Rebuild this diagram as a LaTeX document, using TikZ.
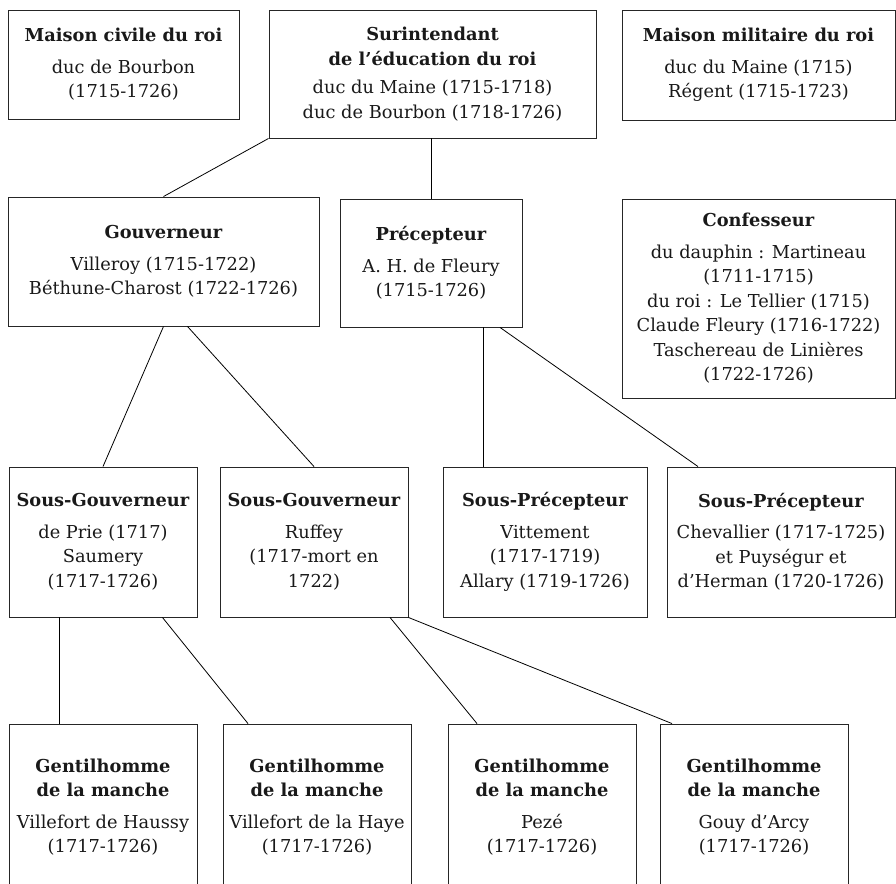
\documentclass[tikz,border=0pt]{standalone}
\usepackage{fontspec}
\setmainfont{DejaVu Serif}
\begin{document}
\begin{tikzpicture}[x=1pt,y=-1pt,
  box/.style={draw=black!85,line width=0.9pt,rectangle,align=center,inner sep=0pt,
    font=\fontsize{17.8}{24.5}\selectfont,text=black!90},
  link/.style={draw=black,line width=0.8pt}]
\useasboundingbox (0,0) rectangle (896,883);
\clip (0,0) rectangle (896,883);
\newcommand{\ttl}[1]{\textbf{#1}}
% top row
\node[box,minimum width=231,minimum height=109] (civ) at (123.5,64.5)
  {\ttl{Maison civile du roi}\\[7pt]duc de Bourbon\\(1715-1726)};
\node[box,minimum width=327,minimum height=128] (sur) at (432.5,74)
  {\ttl{Surintendant}\\\ttl{de l’éducation du roi}\\[4pt]duc du Maine (1715-1718)\\duc de Bourbon (1718-1726)};
\node[box,minimum width=273,minimum height=110] (mil) at (758.5,65)
  {\ttl{Maison militaire du roi}\\[7pt]duc du Maine (1715)\\Régent (1715-1723)};
% second row
\node[box,minimum width=311,minimum height=129] (gou) at (163.5,261.5)
  {\ttl{Gouverneur}\\[7pt]Villeroy (1715-1722)\\Béthune-Charost (1722-1726)};
\node[box,minimum width=182,minimum height=128] (pre) at (431,263)
  {\ttl{Précepteur}\\[7pt]A. H. de Fleury\\(1715-1726)};
\node[box,minimum width=273,minimum height=199] (con) at (758.5,298.5)
  {\ttl{Confesseur}\\[7pt]du dauphin : Martineau\\(1711-1715)\\du roi : Le Tellier (1715)\\Claude Fleury (1716-1722)\\Taschereau de Linières\\(1722-1726)};
% third row
\node[box,minimum width=188,minimum height=150] (sg1) at (103,542)
  {\ttl{Sous-Gouverneur}\\[7pt]de Prie (1717)\\Saumery\\(1717-1726)};
\node[box,minimum width=188,minimum height=150] (sg2) at (314,542)
  {\ttl{Sous-Gouverneur}\\[7pt]Ruffey\\(1717-mort en\\1722)};
\node[box,minimum width=204,minimum height=150] (sp1) at (545,542)
  {\ttl{Sous-Précepteur}\\[7pt]Vittement\\(1717-1719)\\Allary (1719-1726)};
\node[box,minimum width=228,minimum height=150] (sp2) at (781,542)
  {\ttl{Sous-Précepteur}\\[7pt]Chevallier (1717-1725)\\et Puységur et\\d’Herman (1720-1726)};
% fourth row
\node[box,minimum width=188,minimum height=166] (g1) at (103,807)
  {\ttl{Gentilhomme}\\\ttl{de la manche}\\[7pt]Villefort de Haussy\\(1717-1726)};
\node[box,minimum width=188,minimum height=166] (g2) at (317,807)
  {\ttl{Gentilhomme}\\\ttl{de la manche}\\[7pt]Villefort de la Haye\\(1717-1726)};
\node[box,minimum width=188,minimum height=166] (g3) at (542,807)
  {\ttl{Gentilhomme}\\\ttl{de la manche}\\[7pt]Pezé\\(1717-1726)};
\node[box,minimum width=188,minimum height=166] (g4) at (754,807)
  {\ttl{Gentilhomme}\\\ttl{de la manche}\\[7pt]Gouy d’Arcy\\(1717-1726)};
% connectors
\draw[link] (sur.south west) -- (gou.north);
\draw[link] (pre.north |- sur.south) -- (pre.north);
\draw[link] (gou.south) -- (sg1.north);
\draw[link] ([xshift=24]gou.south) -- (sg2.north);
\coordinate (pa) at ([xshift=52]pre.south);
\draw[link] (pa) -- (pa |- sp1.north);
\draw[link] ([xshift=69]pre.south) -- ([xshift=-83]sp2.north);
\coordinate (sa) at ([xshift=-44]sg1.south);
\draw[link] (sa) -- (sa |- g1.north);
\draw[link] ([xshift=-35]sg1.south east) -- ([xshift=-69]g2.north);
\draw[link] ([xshift=76]sg2.south) -- ([xshift=-65]g3.north);
\draw[link] (sg2.south east) -- ([xshift=-82]g4.north);
\end{tikzpicture}
\end{document}
